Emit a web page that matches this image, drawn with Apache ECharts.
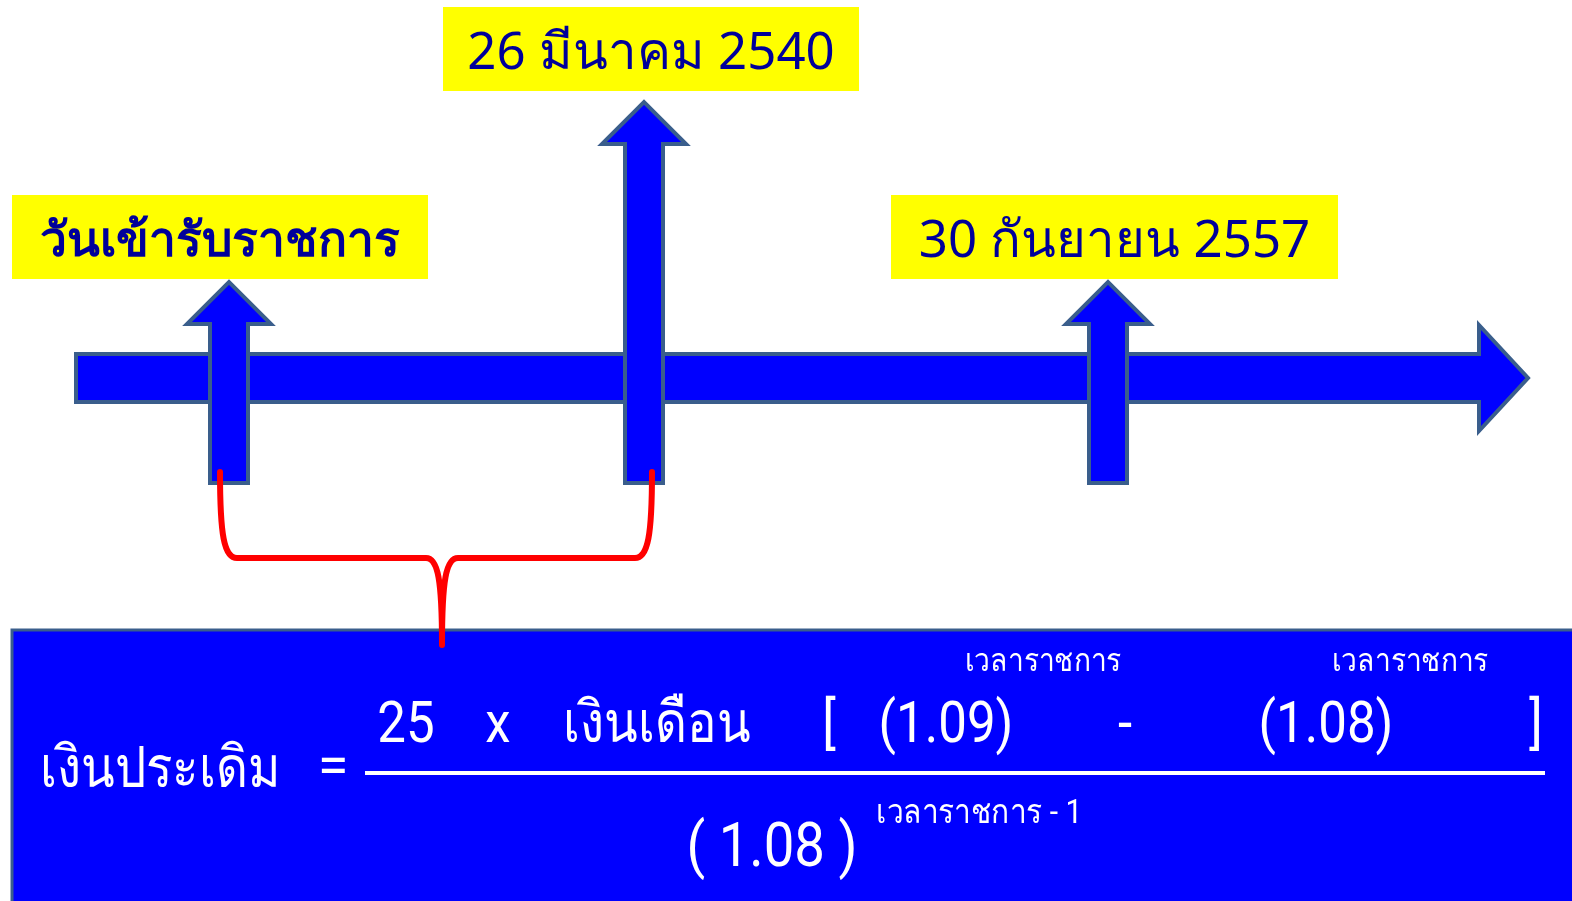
<!DOCTYPE html>
<html>
<head>
<meta charset="utf-8">
<script src="https://cdn.jsdelivr.net/npm/echarts@6/dist/echarts.min.js"></script>
<style>
  html, body { margin: 0; padding: 0; background: #ffffff; overflow: hidden; }
  #main { width: 100vw; height: 100vh; }
</style>
</head>
<body>
<div id="main"></div>
<script>
// ---- data ----
const eventLabels = ['วันเข้ารับราชการ', '26 มีนาคม 2540', '30 กันยายน 2557'];
const eventPositions = [229, 644, 1108];   // position along the timeline
const eventTiers = [1, 2, 1];              // label tier (1 = low, 2 = high)
const timelineSpan = [76, 1530];           // start / end of timeline
const braceEvents = [0, 1];                // brace joins these two events
const formulaLhs = 'เงินประเดิม';
const numeratorTerms = ['25', 'x', 'เงินเดือน', '[', '(1.09)', '-', '(1.08)', ']'];
const numeratorExponents = ['เวลาราชการ', 'เวลาราชการ'];
const denominatorTerm = '( 1.08 )';
const denominatorExponent = 'เวลาราชการ - 1';

// ---- styles ----
const BLUE = '#0000FF';
const EDGE = '#3A5E8C';
const NAVY = '#00009A';
const THAI_FONT = '"Noto Sans", "DejaVu Sans", Roboto, sans-serif';
const FORMULA_FONT = 'Roboto, "Noto Sans", "DejaVu Sans", sans-serif';

const chart = echarts.init(document.getElementById('main'), null, { renderer: 'canvas' });

function pts(api, list) { return list.map(p => api.coord(p)); }

function timelineRender(params, api) {
  const x0 = api.value(0), x1 = api.value(1);
  const headBase = x1 - 51;
  return {
    type: 'polygon',
    shape: { points: pts(api, [[x0, 354], [headBase, 354], [headBase, 325], [x1 - 2, 378], [headBase, 431], [headBase, 402], [x0, 402]]) },
    style: { fill: BLUE, stroke: EDGE, lineWidth: 4, lineJoin: 'miter' }
  };
}

function eventRender(params, api) {
  const cx = api.value(0);
  const tier = api.value(1);
  const idx = params.dataIndex;
  const tip = tier === 2 ? 102 : 282;
  const base = tip + 42;
  const bottom = 483;
  const arrow = {
    type: 'polygon',
    shape: { points: pts(api, [[cx - 19, bottom], [cx - 19, base], [cx - 42, base], [cx, tip], [cx + 42, base], [cx + 19, base], [cx + 19, bottom]]) },
    style: { fill: BLUE, stroke: EDGE, lineWidth: 4, lineJoin: 'miter' }
  };
  const label = eventLabels[idx];
  const boxTop = tier === 2 ? 7 : 195;
  const w = idx === 2 ? 447 : 416;
  const bcx = cx + (idx === 0 ? -9 : (idx === 1 ? 7 : 6.5));
  const tl = api.coord([bcx - w / 2, boxTop]);
  const br = api.coord([bcx + w / 2, boxTop + 84]);
  const box = {
    type: 'rect',
    shape: { x: tl[0], y: tl[1], width: br[0] - tl[0], height: br[1] - tl[1] },
    style: { fill: '#FFFF00' }
  };
  const tc = api.coord([bcx, boxTop + 47]);
  const text = {
    type: 'text',
    x: tc[0], y: tc[1],
    style: {
      text: label, x: 0, y: 0, align: 'center', verticalAlign: 'middle',
      fill: NAVY, fontSize: idx === 0 ? 48 : 51, fontWeight: idx === 0 ? 'bold' : 'normal', fontFamily: THAI_FONT
    }
  };
  return { type: 'group', children: [arrow, box, text] };
}

function braceRender(params, api) {
  const a = eventPositions[braceEvents[0]] - 9;
  const b = eventPositions[braceEvents[1]] + 8;
  const mid = (a + b) / 2 + 6;
  const P = (x, y) => api.coord([x, y]).join(' ');
  const d = 'M ' + P(a, 472) +
    ' C ' + P(a, 535) + ' ' + P(a + 4, 558) + ' ' + P(a + 17, 558) +
    ' L ' + P(mid - 16, 558) +
    ' C ' + P(mid - 4, 558) + ' ' + P(mid, 580) + ' ' + P(mid, 645) +
    ' C ' + P(mid, 580) + ' ' + P(mid + 4, 558) + ' ' + P(mid + 16, 558) +
    ' L ' + P(b - 17, 558) +
    ' C ' + P(b - 4, 558) + ' ' + P(b, 535) + ' ' + P(b, 472);
  return {
    type: 'path',
    shape: { pathData: d },
    style: { fill: null, stroke: '#FF0000', lineWidth: 6, lineCap: 'round', lineJoin: 'round' }
  };
}

function txt(api, s, x, y, size, align, sx) {
  const c = api.coord([x, y]);
  return {
    type: 'text', x: c[0], y: c[1], scaleX: sx || 0.88,
    style: { text: s, x: 0, y: 0, align: align || 'center', verticalAlign: 'middle',
      fill: '#FFFFFF', fontSize: size, fontFamily: FORMULA_FONT }
  };
}

function formulaRender(params, api) {
  const tl = api.coord([12, 630]);
  const br = api.coord([1590, 920]);
  const box = {
    type: 'rect',
    shape: { x: tl[0], y: tl[1], width: br[0] - tl[0], height: br[1] - tl[1] },
    style: { fill: BLUE, stroke: EDGE, lineWidth: 3 }
  };
  const l0 = api.coord([365, 773]), l1 = api.coord([1545, 773]);
  const bar = { type: 'line', shape: { x1: l0[0], y1: l0[1], x2: l1[0], y2: l1[1] }, style: { stroke: '#FFFFFF', lineWidth: 4 } };
  const numX = [406, 498, 657, 829, 946, 1125, 1326, 1536];
  const children = [box, bar,
    txt(api, formulaLhs, 160, 772, 58, 'center', 0.85),
    txt(api, '=', 333, 770, 56, 'center', 1)];
  numeratorTerms.forEach((t, i) => {
    const thai = /[\u0E00-\u0E7F]/.test(t);
    children.push(txt(api, t, numX[i], 727, 58, 'center', thai ? 0.85 : 0.88));
  });
  const expX = [1043, 1410];
  numeratorExponents.forEach((t, i) => children.push(txt(api, t, expX[i], 663, 32)));
  children.push(txt(api, denominatorTerm, 772, 850, 62));
  children.push(txt(api, denominatorExponent, 876, 814, 34, 'left'));
  return { type: 'group', children };
}

chart.setOption({
  animation: false,
  grid: { left: 0, right: 0, top: 0, bottom: 0 },
  xAxis: { type: 'value', min: 0, max: 1572, show: false },
  yAxis: { type: 'value', min: 0, max: 901, inverse: true, show: false },
  series: [
    { type: 'custom', renderItem: timelineRender, data: [timelineSpan], silent: true, z: 1 },
    { type: 'custom', renderItem: eventRender, data: eventPositions.map((p, i) => [p, eventTiers[i]]), silent: true, z: 2 },
    { type: 'custom', renderItem: formulaRender, data: [[0, 0]], silent: true, z: 3 },
    { type: 'custom', renderItem: braceRender, data: [[0, 0]], silent: true, z: 4 }
  ]
});
window.addEventListener('resize', () => chart.resize());
</script>
</body>
</html>
